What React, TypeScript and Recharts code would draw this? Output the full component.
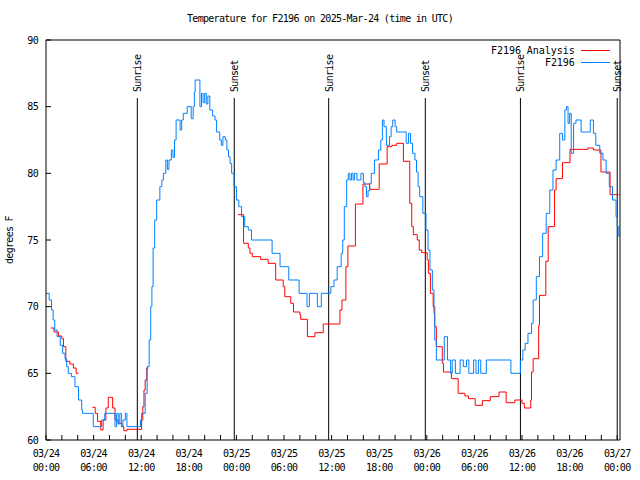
import { LineChart, Line, XAxis, YAxis, ReferenceLine } from 'recharts';

// hours since 03/24 00:00 UTC, and the temperatures (deg F)
const analysisHours = [
	0.6, 1.0, 1.55, 2.0, 2.2, 2.5, 3.0, 3.45, 3.8, 4.1, 4.3,
	5.85, 6.2, 6.5, 6.9, 7.2, 7.55, 7.85, 8.2, 8.4, 8.7, 9.1, 9.55, 9.8, 10.2, 12.05, 12.2, 12.35, 12.5, 12.7, 12.9, 13.1,
	24.2, 24.9, 25.5, 25.7, 26.0, 27.05, 28.0, 28.95, 29.9, 30.1, 30.85, 31.2, 32.0, 32.1, 32.95, 33.9, 34.95, 37.05,
	37.3, 37.8, 38.05, 39.0, 39.95, 40.8, 42.0, 43.0, 43.6, 44.2, 45.05, 45.85, 46.1, 46.3, 46.8, 47.05, 47.35, 48.05,
	48.2, 48.45, 48.8, 49.0, 49.2, 49.95, 50.1, 51.1, 51.95, 52.8, 53.25, 54.1, 55.0, 56.0, 57.1, 58.0, 59.1, 60.0,
	60.3, 61.1, 61.2, 61.4, 62.1, 62.2, 63.0, 63.3, 64.1, 64.3, 65.1, 66.05, 68.3, 69.0, 69.95, 71.1, 72.2,
];
const analysisTemps = [
	68.4, 68.1, 67.8, 67.6, 67.0, 65.9, 65.7, 65.4, 65.0, 65.0, null,
	62.45, 62.0, 61.4, 60.75, 61.5, 62.4, 63.2, 63.2, 62.4, 61.5, 61.25, 61.0, 60.7, 60.8, 61.5, 62.5, 63.75, 64.5, 65.4, 65.4, null,
	76.9, 74.75, 74.4, 74.0, 73.75, 73.55, 73.25, 72.0, 71.5, 70.75, 70.25, 69.6, 69.4, 69.05, 67.75, 68.05, 68.7, 69.75,
	70.5, 73.0, 74.55, 77.7, 79.2, 78.8, 80.7, 82.0, 82.1, 82.25, 80.9, 77.75, 76.0, 75.4, 75.0, 74.25, 74.05, 73.5,
	72.5, 71.0, 70.0, 68.5, 67.0, 65.75, 65.1, 64.6, 63.5, 63.3, 63.1, 62.6, 62.95, 63.25, 63.6, 62.8, 63.0, 62.75,
	62.4, 63.0, 65.1, 66.1, 68.6, 70.85, 73.4, 76.0, 78.75, 79.6, 80.8, 81.8, 81.9, 81.75, 80.1, 78.4, 78.4,
];

const stationHours = [
	0, 0.4, 0.7, 0.9, 1.1, 1.4, 1.8, 2.1, 2.4, 2.6, 2.8, 3.2, 3.65, 4.1, 4.5, 4.6, 5.96, 7.0, 7.4, 8.7, 8.9, 9.1, 9.3,
	9.5, 9.7, 10.0, 10.2, 10.3, 11.9, 12.05, 12.5, 12.75, 13.0, 13.2, 13.35, 13.5, 13.7, 13.95, 14.35, 14.6, 14.8, 15.1,
	15.3, 15.5, 15.8, 16.0, 16.2, 16.4, 16.9, 17.1, 17.3, 17.8, 18.3, 18.55, 18.7, 18.8, 19.4, 19.6, 19.8, 20.0, 20.2,
	20.4, 20.65, 21.0, 21.3, 21.5, 21.9, 22.1, 22.3, 22.6, 22.8, 23.0, 23.2, 23.4, 23.7, 24.0, 24.3, 24.65, 25.05, 25.5,
	25.9, 28.5, 29.5, 30.6, 31.9, 32.9, 33.2, 34.2, 34.7, 35.9, 36.3, 36.7, 37.2, 37.4, 37.6, 37.9, 38.1, 38.3, 38.5,
	38.7, 38.9, 39.2, 39.7, 40.0, 40.2, 40.4, 40.6, 40.8, 41.0, 41.4, 41.9, 42.2, 42.4, 42.6, 42.9, 43.3, 43.5, 43.7,
	44.0, 44.2, 45.4, 45.7, 45.95, 46.2, 46.5, 46.7, 46.9, 47.1, 47.5, 47.9, 48.15, 48.4, 48.7, 48.9, 49.0, 49.2, 50.2,
	50.6, 51.0, 51.2, 51.6, 52.2, 52.6, 53.0, 53.3, 53.9, 54.2, 54.5, 54.8, 55.5, 58.6, 59.8, 60.1, 60.4, 60.75, 61.2,
	61.4, 61.8, 62.2, 62.6, 63.05, 63.5, 63.9, 64.3, 64.75, 65.1, 65.4, 65.6, 65.8, 66.0, 66.2, 66.5, 66.8, 67.45, 68.6,
	69.0, 69.3, 69.8, 70.2, 70.6, 71.0, 71.4, 71.85, 72.0, 72.2,
];
const stationTemps = [
	71.0, 70.5, 69.75, 69.0, 68.25, 67.75, 67.1, 66.5, 66.1, 65.5, 65.0, 64.75, 64.0, 63.0, 62.25, 62.0, 61.0, 61.5, 62.0, 61.0, 62.0, 61.2, 62.0,
	61.0, 61.5, 62.0, 61.0, 61.0, 61.5, 62.0, 63.5, 65.5, 67.5, 70.0, 71.5, 74.4, 76.5, 78.0, 79.0, 79.5, 80.0, 81.0,
	80.3, 81.0, 81.75, 81.2, 82.5, 84.0, 83.25, 84.0, 84.5, 85.0, 84.1, 85.0, 86.1, 87.0, 85.0, 86.0, 85.3, 86.0, 85.2,
	85.8, 84.75, 84.3, 84.0, 83.1, 82.5, 82.1, 82.75, 82.5, 81.75, 81.25, 80.75, 80.0, 79.0, 78.0, 77.5, 76.75, 76.0, 75.75,
	75.0, 74.0, 73.0, 72.0, 71.0, 70.0, 71.0, 70.0, 71.0, 71.5, 72.0, 73.0, 74.0, 75.0, 77.5, 79.5, 80.0, 79.5, 80.0,
	79.5, 80.0, 79.5, 80.0, 79.3, 79.0, 78.25, 78.7, 79.25, 80.0, 81.0, 81.75, 82.5, 84.0, 83.5, 82.1, 82.75, 83.5, 84.0,
	83.5, 83.1, 82.25, 83.0, 82.25, 81.5, 81.0, 80.1, 79.0, 78.25, 77.0, 75.75, 74.25, 72.75, 71.25, 69.5, 67.5, 66.0, 67.75,
	66.0, 65.0, 66.0, 65.0, 66.0, 65.5, 66.0, 65.0, 66.0, 65.0, 66.0, 65.0, 66.0, 65.0, 66.0, 66.75, 67.25, 68.0, 68.75,
	70.5, 72.25, 73.75, 75.5, 77.0, 78.75, 80.25, 81.0, 83.0, 82.5, 84.75, 85.0, 83.75, 84.5, 81.5, 83.75, 84.0, 83.1, 84.0,
	83.0, 82.1, 81.5, 81.0, 80.0, 79.0, 78.0, 76.75, 76.0, 75.25,
];

const sunHours = [11.51, 23.73, 35.63, 47.81, 59.8, 72.0];
const sunNames = ['Sunrise', 'Sunset', 'Sunrise', 'Sunset', 'Sunrise', 'Sunset'];

const labelHours = [0, 6, 12, 18, 24, 30, 36, 42, 48, 54, 60, 66, 72];
const xLabels = [
	'03/24 00:00', '03/24 06:00', '03/24 12:00', '03/24 18:00',
	'03/25 00:00', '03/25 06:00', '03/25 12:00', '03/25 18:00',
	'03/26 00:00', '03/26 06:00', '03/26 12:00', '03/26 18:00',
	'03/27 00:00',
];
const xTicks = Array.from({ length: 37 }, (_, i) => i * 2);
const yTicks = [60, 65, 70, 75, 80, 85, 90];

const analysisData = analysisHours.map((t, i) => ({ t, v: analysisTemps[i] }));
const stationData = stationHours.map((t, i) => ({ t, v: stationTemps[i] }));

const FONT = '"DejaVu Sans Mono", monospace';
const fontStyle = { fontFamily: FONT, fontSize: 10, letterSpacing: -0.7, fill: '#000' };

const XTick = ({ x, y, payload }: any) => {
	const i = labelHours.indexOf(payload.value);
	if (i < 0) return <g />;
	const [d, tm] = xLabels[i].split(' ');
	return (
		<text x={x} y={y} textAnchor='middle' style={fontStyle}>
			<tspan x={x} dy={0}>{d}</tspan>
			<tspan x={x} dy={14}>{tm}</tspan>
		</text>
	);
};

const SunLabel = ({ viewBox, text }: any) => {
	const x = viewBox.x + 4;
	const y = viewBox.y - 6;
	return (
		<text x={x} y={y} transform={`rotate(-90 ${x} ${y})`} style={fontStyle}>
			{text}
		</text>
	);
};

const App = () => {
	return (
		<div style={{ position: 'absolute', left: 0, top: 0, width: 640, height: 480, background: '#fff' }}>
			<div
				style={{
					position: 'absolute',
					top: 13,
					left: 0,
					width: 640,
					textAlign: 'center',
					fontFamily: FONT,
					fontSize: 10,
					letterSpacing: -0.7,
					lineHeight: '12px',
				}}
			>
				Temperature for F2196 on 2025-Mar-24 (time in UTC)
			</div>
			<div
				style={{
					position: 'absolute',
					left: -30,
					top: 234,
					width: 80,
					textAlign: 'center',
					transform: 'rotate(-90deg)',
					fontFamily: FONT,
					fontSize: 10,
					letterSpacing: -0.7,
					lineHeight: '12px',
				}}
			>
				degrees F
			</div>
			<LineChart width={640} height={480} margin={{ top: 39, right: 19, bottom: 10, left: 6 }}>
				<XAxis
					dataKey='t'
					type='number'
					domain={[0, 72.35]}
					ticks={xTicks}
					interval={0}
					height={30}
					tickSize={-5}
					tickMargin={22}
					tick={<XTick />}
					stroke='#000'
					allowDataOverflow
				/>
				<XAxis
					xAxisId='top'
					orientation='top'
					type='number'
					domain={[0, 72.35]}
					ticks={xTicks}
					interval={0}
					height={1}
					tickSize={-5}
					tickFormatter={() => ''}
					stroke='#000'
					allowDataOverflow
				/>
				<YAxis
					type='number'
					domain={[60, 90]}
					ticks={yTicks}
					interval={0}
					width={40}
					tickSize={-5}
					tickMargin={13}
					tick={fontStyle}
					stroke='#000'
					allowDataOverflow
				/>
				<YAxis
					yAxisId='right'
					orientation='right'
					type='number'
					domain={[60, 90]}
					ticks={yTicks}
					interval={0}
					width={1}
					tickSize={-5}
					tickFormatter={() => ''}
					stroke='#000'
				/>
				{sunHours.map((h, i) => (
					<ReferenceLine
						key={`sun-${i}`}
						segment={[
							{ x: h, y: 60 },
							{ x: h, y: 85.65 },
						]}
						stroke='#000'
						strokeWidth={1}
						label={(p: any) => <SunLabel {...p} text={sunNames[i]} />}
					/>
				))}
				<Line
					data={analysisData}
					dataKey='v'
					name='F2196 Analysis'
					type='stepAfter'
					stroke='#ff0000'
					strokeWidth={1}
					dot={false}
					isAnimationActive={false}
				/>
				<Line
					data={stationData}
					dataKey='v'
					name='F2196'
					type='stepAfter'
					stroke='#0080ff'
					strokeWidth={1}
					dot={false}
					isAnimationActive={false}
				/>
			</LineChart>
			<svg style={{ position: 'absolute', left: 0, top: 0 }} width={640} height={80}>
				<text x={574} y={54} textAnchor='end' textLength={83} style={fontStyle}>F2196 Analysis</text>
				<line x1={581} x2={610} y1={50.5} y2={50.5} stroke='#ff0000' />
				<text x={574} y={66} textAnchor='end' textLength={29} style={fontStyle}>F2196</text>
				<line x1={581} x2={610} y1={62.5} y2={62.5} stroke='#0080ff' />
			</svg>
		</div>
	);
};

export default App;
